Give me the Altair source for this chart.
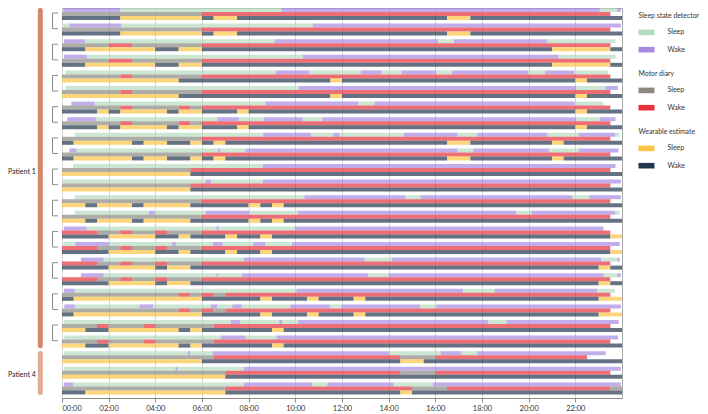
import altair as alt
import pandas as pd

HOURS = list(range(0, 24, 2))
TRACKS = ["Sleep state detector", "Motor diary", "Wearable estimate"]
STATES = ["Sleep", "Wake"]

DET_COLORS = ["#b5dbbf", "#a68ae0"]
DIARY_COLORS = ["#8c8980", "#e7313b"]
WEAR_COLORS = ["#fcc445", "#243650"]

# Sleep state detector, one entry per day row: (first state, change points in hours)
DETECTOR = [
    ("W", [0.05, 2.5, 9.4, 23.05, 23.8, 23.95]),
    ("S", [0.05, 0.33, 2.55, 10.75, 23.95]),
    ("W", [0.08, 0.98, 9.12, 16.12, 16.8, 20.8, 23.72]),
    ("W", [0.08, 1.07, 10.32, 21.28, 23.72]),
    ("S", [0.15, 9.15, 10.6, 12.8, 13.7, 14.55, 16.05, 16.7, 20.0, 20.7, 21.95, 23.4]),
    ("S", [0.15, 10.15, 22.05, 23.3, 23.82]),
    ("W", [0.4, 1.4, 8.72, 12.7, 13.4, 21.97, 23.2]),
    ("W", [0.23, 1.45, 6.65, 7.58, 8.64, 10.32, 11.15, 22.05, 23.05, 23.72]),
    ("S", [0.55, 8.62, 10.67, 11.63, 11.9, 14.64, 16.95, 17.8, 20.8, 22.15, 23.7, 23.9]),
    ("W", [0.32, 0.62, 6.67, 6.78, 7.87, 16.95, 17.63, 20.87, 22.15, 23.85]),
    ("S", [0.47, 8.61, 23.72]),
    ("S", [0.05, 6.15, 6.4, 8.61, 23.95]),
    ("S", [0.55, 10.39, 14.72, 15.37, 21.88, 22.6, 23.95]),
    ("S", [0.55, 3.72, 3.98, 6.15, 8.02, 10.12, 19.47, 20.12, 23.7, 23.9]),
    ("W", [0.08, 1.06, 6.62, 6.72, 9.97, 23.2]),
    ("S", [0.05, 0.57, 2.03, 4.72, 4.88, 6.47, 6.88, 8.2, 8.72, 9.86, 23.9]),
    ("W", [0.81, 1.79, 7.79, 12.97, 14.13, 23.1, 23.8, 23.9]),
    ("W", [0.81, 1.79, 6.62, 6.7, 7.7, 13.13, 14.0, 23.22, 23.8, 23.95]),
    ("W", [0.08, 0.55, 10.05, 17.2, 18.54, 22.93, 23.7]),
    ("W", [0.1, 0.55, 3.32, 3.9, 6.38, 6.65, 7.3, 7.71, 9.78, 11.48, 11.99, 15.35, 16.04, 23.95]),
    ("S", [0.08, 7.24, 7.63, 9.31, 9.45, 10.12, 18.27, 19.05, 23.86]),
    ("S", [0.1, 6.8, 7.87, 9.2, 23.83]),
    ("S", [0.08, 5.4, 5.5, 6.46, 14.02, 16.23, 17.1, 17.79, 23.3]),
    ("S", [0.08, 4.86, 4.96, 7.79, 23.95]),
    ("W", [0.08, 0.47, 7.79, 10.72, 11.37, 14.22, 15.89, 23.95]),
]

# Motor diary, one entry per day (paired rows share a day)
DIARY = [
    ("S", [0, 6, 23.5]),
    ("S", [0, 2, 3, 6, 23.5]),
    ("S", [0, 2.5, 3, 6, 23.5]),
    ("S", [0, 2.5, 3, 5, 5.5, 6, 23.5]),
    ("S", [0, 6, 23.5]),
    ("S", [0, 5.5, 23.5]),
    ("S", [0, 6, 23.5]),
    ("W", [0, 1.5, 2.5, 3, 4, 4.5, 6, 23.5]),
    ("W", [0, 1.5, 2.5, 3, 4, 4.5, 6, 23.5]),
    ("S", [0, 5, 5.5, 6, 6.5, 7, 23.5]),
    ("S", [0, 1.5, 2, 3.5, 4, 6.5, 23.5]),
    ("S", [0, 6.5, 14.5, 16, 22.5]),
    ("S", [0, 7, 14.5, 16, 23.5]),
    ("S", [0, 7, 15, 16.5, 23.5, 24]),
]

# Wearable estimate, one entry per day
WEARABLE = [
    ("W", [0, 2.5, 6, 6.5, 7.5, 16.5, 17.5, 24]),
    ("W", [0, 1, 4, 5, 6, 21, 23.5, 24]),
    ("S", [0, 5, 11.5, 12, 22, 22.5, 24]),
    ("W", [0, 1.5, 2, 2.5, 4.5, 5, 6, 7.5, 8, 22, 22.5, 24]),
    ("W", [0, 0.5, 3, 3.5, 4.5, 5.5, 6, 6.5, 7, 16.5, 17.5, 21, 21.5, 24]),
    ("S", [0, 5.5, 24]),
    ("S", [0, 1, 1.5, 3, 3.5, 5.5, 8, 8.5, 9, 9.5, 24]),
    ("W", [0, 2, 4, 5, 5.5, 7, 7.5, 8.5, 9, 23.5, 24]),
    ("W", [0, 2, 4, 4.5, 5.5, 23, 23.5, 24]),
    ("W", [0, 0.5, 6, 8.5, 9, 10.5, 11, 12.5, 13, 23, 24]),
    ("S", [0, 1, 2, 5, 5.5, 6, 9, 9.5, 24]),
    ("S", [0, 6, 14.5, 15.5, 24]),
    ("S", [0, 7, 24]),
    ("W", [0, 1, 7, 14.5, 15, 24]),
]

ROW_DAY = [0, 0, 1, 1, 2, 2, 3, 3, 4, 4, 5, 5, 6, 6, 7, 7, 8, 8, 9, 9, 10, 10, 11, 12, 13]
BRACKET_PAIRS = [(0, 1), (2, 3), (4, 5), (6, 7), (8, 9), (10, 11), (12, 13),
                 (14, 15), (16, 17), (18, 19), (20, 21)]
PATIENT_LABELS = ["Patient 1", "Patient 4"]
PATIENT_FIRST = [0, 22]
PATIENT_LAST = [21, 24]
PATIENT_LABEL_ROW = [10, 23]
PATIENT_COLORS = ["#d4866c", "#e2ab97"]


def segments(row, track, spec):
    first, bounds = spec
    s = 0 if first == "S" else 1
    out = []
    for a, b in zip(bounds[:-1], bounds[1:]):
        out.append({"row": row, "track": track, "start": a, "end": b, "state": STATES[s]})
        s = 1 - s
    return out


recs = []
for r, spec in enumerate(DETECTOR):
    recs += segments(r, TRACKS[0], spec)
    recs += segments(r, TRACKS[1], DIARY[ROW_DAY[r]])
    recs += segments(r, TRACKS[2], WEARABLE[ROW_DAY[r]])
seg_df = pd.DataFrame(recs)

NROWS = len(DETECTOR)
yscale = alt.Scale(domain=list(range(NROWS)), paddingInner=0.23, paddingOuter=0.115, align=0)

label_expr = "(datum.value < 10 ? '0' : '') + datum.value + ':00'"
xaxis = alt.Axis(values=HOURS, labelExpr=label_expr, title=None, grid=True,
                 tickSize=4, labelPadding=2)
SWATCH = "M-1,-0.35L1,-0.35L1,0.35L-1,0.35Z"


def track_layer(track, colors):
    return alt.Chart(seg_df).transform_filter(alt.datum.track == track).mark_bar(opacity=0.7).encode(
        x=alt.X("start:Q", scale=alt.Scale(domain=[0, 24], nice=False, zero=False), axis=xaxis),
        x2="end:Q",
        y=alt.Y("row:O", scale=yscale, axis=None),
        yOffset=alt.YOffset("track:N", scale=alt.Scale(domain=TRACKS, paddingInner=0, paddingOuter=0)),
        color=alt.Color("state:N", scale=alt.Scale(domain=STATES, range=colors),
                        legend=alt.Legend(title=track, symbolType=SWATCH, symbolSize=256,
                                          symbolOpacity=1, symbolStrokeWidth=0)),
    )


bars = [track_layer(TRACKS[0], DET_COLORS), track_layer(TRACKS[1], DIARY_COLORS),
        track_layer(TRACKS[2], WEAR_COLORS)]

pair_df = pd.DataFrame({"r0": [p[0] for p in BRACKET_PAIRS], "r1": [p[1] for p in BRACKET_PAIRS]})
end_df = pd.DataFrame({"row": [r for p in BRACKET_PAIRS for r in p]})

bracket_v = alt.Chart(pair_df).mark_rule(color="#8a8a8a", strokeWidth=1).encode(
    x=alt.value(-9.5),
    y=alt.Y("r0:O", scale=yscale, axis=None, bandPosition=0.42),
    y2=alt.Y2("r1", bandPosition=0.42),
)
bracket_h = alt.Chart(end_df).mark_rule(color="#8a8a8a", strokeWidth=1).encode(
    x=alt.value(-9.5), x2=alt.value(-4),
    y=alt.Y("row:O", scale=yscale, axis=None, bandPosition=0.42),
)

pat_layers = []
for i in range(len(PATIENT_LABELS)):
    pdf = pd.DataFrame({"r0": [PATIENT_FIRST[i]], "r1": [PATIENT_LAST[i]],
                        "lr": [PATIENT_LABEL_ROW[i]], "label": [PATIENT_LABELS[i]]})
    pat_layers.append(
        alt.Chart(pdf).mark_rule(color=PATIENT_COLORS[i], strokeWidth=5, strokeCap="round").encode(
            x=alt.value(-21.7),
            y=alt.Y("r0:O", scale=yscale, axis=None, bandPosition=0.2),
            y2=alt.Y2("r1", bandPosition=0.85),
        )
    )
    pat_layers.append(
        alt.Chart(pdf).mark_text(align="left", baseline="middle", fontSize=7, color="#222").encode(
            x=alt.value(-54),
            y=alt.Y("lr:O", scale=yscale, axis=None, bandPosition=0.68),
            text="label:N",
        )
    )

chart = alt.layer(*bars, bracket_v, bracket_h, *pat_layers).resolve_scale(
    color="independent"
).properties(
    width=560, height=390,
    autosize=alt.AutoSizeParams(type="none"),
    padding={"left": 54, "top": 0, "right": 78, "bottom": 16},
).configure(
    font="Lato"
).configure_view(
    stroke="#a8a8a8", strokeWidth=1
).configure_axis(
    domainColor="#8a8a8a", tickColor="#8a8a8a", gridColor="#d6d6d6",
    labelFontSize=7.5, labelColor="#333", labelFont="Lato"
).configure_legend(
    orient="right", offset=12, padding=4.5, titleFontSize=6.9, titleFontWeight="normal",
    titleColor="#333", titleFont="Lato", labelFontSize=7, labelColor="#333", labelFont="Lato",
    rowPadding=6.3, titlePadding=5, labelOffset=13
)

chart.save("out.html", embed_options={"renderer": "svg", "actions": False})
